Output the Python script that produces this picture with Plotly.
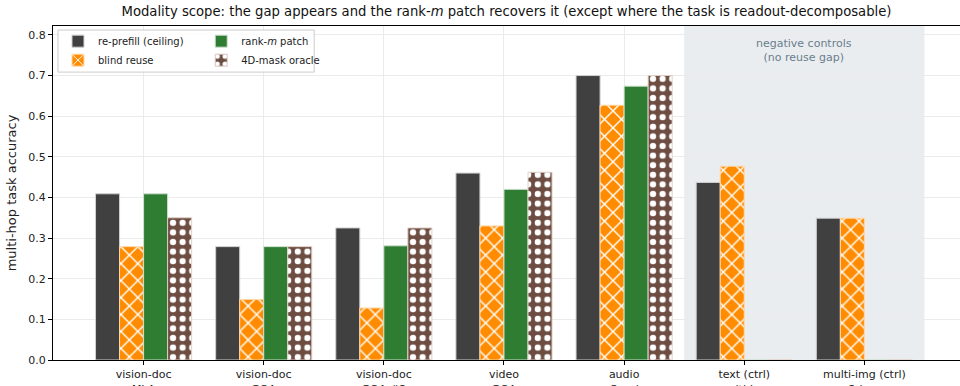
import plotly.graph_objects as go

categories = ["vision-doc<br>MLA", "vision-doc<br>GQA", "vision-doc<br>GQA-#2", "video<br>GQA",
              "audio<br>Omni", "text (ctrl)<br>multi-hop", "multi-img (ctrl)<br>2-hop"]
reprefill = [0.409, 0.279, 0.325, 0.460, 0.700, 0.437, 0.349]
blind = [0.279, 0.149, 0.128, 0.330, 0.627, 0.477, 0.349]
rankm = [0.409, 0.279, 0.281, 0.420, 0.674, 0.0, 0.0]
oracle = [0.350, 0.279, 0.325, 0.462, 0.700, 0.0, 0.0]
y_ticks = [0.0, 0.1, 0.2, 0.3, 0.4, 0.5, 0.6, 0.7, 0.8]

FONT = "DejaVu Sans"
x = list(range(len(categories)))

fig = go.Figure()
fig.add_trace(go.Bar(x=x, y=reprefill, name="re-prefill (ceiling)", legend="legend",
                     marker=dict(color="#404040", line=dict(color="#d0d0d0", width=1))))
fig.add_trace(go.Bar(x=x, y=blind, name="blind reuse", legend="legend",
                     marker=dict(color="#ff8c00", line=dict(color="#ffd8a8", width=1),
                                 pattern=dict(shape="x", fgcolor="white", bgcolor="#ff8c00", fgopacity=1,
                                              size=12, solidity=0.22, fillmode="overlay"))))
fig.add_trace(go.Bar(x=x, y=rankm, name="rank-<i>m</i> patch", legend="legend2",
                     marker=dict(color="#2e7d32", line=dict(color="#d0e0d0", width=1))))
fig.add_trace(go.Bar(x=x, y=oracle, name="4D-mask oracle", legend="legend2",
                     marker=dict(color="#6d4c41", line=dict(color="#e0d0c8", width=1),
                                 pattern=dict(shape=".", fgcolor="white", bgcolor="#6d4c41", fgopacity=1,
                                              size=9.6, solidity=0.33, fillmode="overlay"))))

fig.add_shape(type="rect", xref="x", yref="paper", x0=4.5, x1=6.5, y0=0, y1=1,
              fillcolor="#e9edf0", line=dict(width=0), layer="below")
fig.add_annotation(x=5.5, y=0.8, xref="x", yref="y", text="negative controls<br>(no reuse gap)",
                   showarrow=False, font=dict(family=FONT, size=11, color="#6b7d8c"), yanchor="top")

# legend box
fig.add_shape(type="rect", xref="paper", yref="paper", x0=0.0055, x1=0.288, y0=0.862, y1=0.988,
              fillcolor="rgba(255,255,255,0.85)", line=dict(color="#cccccc", width=1), layer="above")

fig.update_layout(
    width=960, height=386,
    margin=dict(l=53, r=0, t=26, b=26),
    plot_bgcolor="white", paper_bgcolor="white",
    barmode="group", bargap=0.2, bargroupgap=0,
    font=dict(family=FONT, size=11, color="#222"),
    title=dict(text="Modality scope: the gap appears and the rank-<i>m</i> patch recovers it (except where the task is readout-decomposable)",
               x=0.5, xref="paper", y=0.97, yref="container", yanchor="middle", font=dict(family=FONT, size=13.2, color="#111")),
    legend=dict(x=0.0055, y=0.998, xanchor="left", yanchor="top", bgcolor="rgba(0,0,0,0)",
                font=dict(family=FONT, size=10), tracegroupgap=0, itemwidth=30),
    legend2=dict(x=0.1634, y=0.998, xanchor="left", yanchor="top", bgcolor="rgba(0,0,0,0)",
                 font=dict(family=FONT, size=10), tracegroupgap=0, itemwidth=30),
    showlegend=True,
)
fig.update_xaxes(range=[-0.754, 6.796], tickvals=x, ticktext=categories, ticks="outside",
                 ticklen=4, tickcolor="black", showline=True, linecolor="black", linewidth=1.2,
                 mirror=True, showgrid=True, gridcolor="#ebebeb", zeroline=False, automargin=False,
                 tickfont=dict(family=FONT, size=11))
fig.update_yaxes(range=[0, 0.822], tickvals=y_ticks, ticktext=[f"{v:.1f}" for v in y_ticks],
                 ticks="outside", ticklen=4, tickcolor="black", showline=True, linecolor="black",
                 linewidth=1.2, showgrid=True, gridcolor="#ebebeb", zeroline=False, automargin=False,
                 title=dict(text="multi-hop task accuracy", font=dict(family=FONT, size=13), standoff=8),
                 tickfont=dict(family=FONT, size=11))

fig.write_html("out.html")
